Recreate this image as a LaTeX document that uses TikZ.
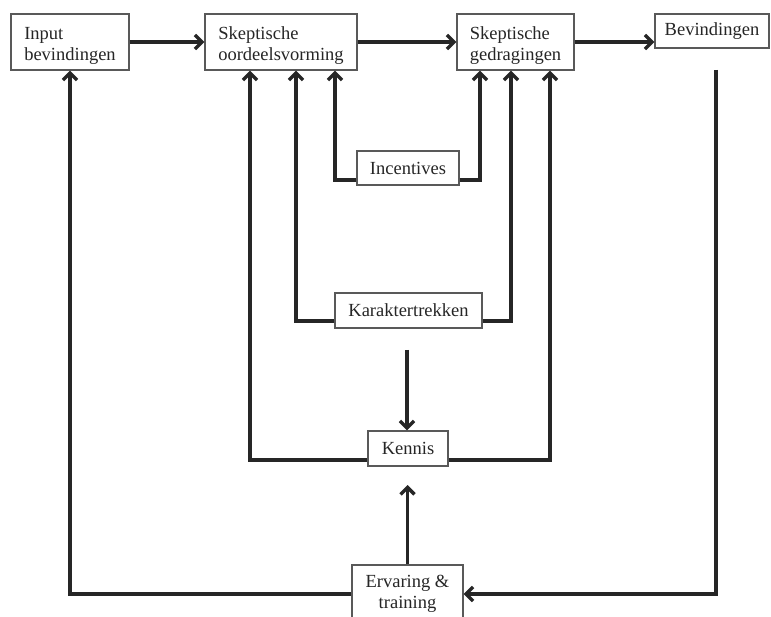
\documentclass[tikz,border=0pt]{standalone}
\usepackage{fontspec}
\setmainfont{Liberation Serif}
\usetikzlibrary{arrows.meta}
\newcommand{\lowertext}[1]{\raisebox{-4pt}[\height][\depth]{#1}}
\begin{document}
\begin{tikzpicture}[x=1pt,y=-1pt,
  box/.style={draw=black!65, line width=1.3pt, fill=white, align=center, inner sep=0pt,
    font=\fontsize{18.5}{22}\selectfont, text=black!85},
  conn/.style={line width=3.4pt, draw=black!85},
  arr/.style={conn, -{Straight Barb[length=7pt,width=14pt,line width=3.4pt]}}]
\useasboundingbox (0,0) rectangle (771,617);
\clip (0,0) rectangle (771,617);
\fill[white] (0,0) rectangle (771,617);
% nodes
\node[box, minimum width=118, minimum height=56] (in) at (70,42) {\lowertext{\begin{tabular}{@{}l@{}}Input\\[-1pt]bevindingen\end{tabular}}};
\node[box, minimum width=152, minimum height=56] (so) at (281,42) {\lowertext{\begin{tabular}{@{}l@{}}Skeptische\\[-1pt]oordeelsvorming\end{tabular}}};
\node[box, minimum width=117, minimum height=56] (sg) at (515.5,42) {\lowertext{\begin{tabular}{@{}l@{}}Skeptische\\[-1pt]gedragingen\end{tabular}}};
\node[box, minimum width=114, minimum height=34] (bev) at (712,31) {Bevindingen};
\node[box, minimum width=102, minimum height=34] (inc) at (408,168) {Incentives};
\node[box, minimum width=147, minimum height=35] (kar) at (408.5,310.5) {Karaktertrekken};
\node[box, minimum width=80, minimum height=35] (ken) at (408,448.5) {Kennis};
\node[box, minimum width=111, minimum height=58] (erv) at (407.5,594) {\begin{tabular}{@{}c@{}}Ervaring \&\\[-1pt]training\end{tabular}};
% free ends
\coordinate (bevstart) at (716,70);
\coordinate (karbelow) at (407,350);
\coordinate (kenbelow) at (407.5,485);
% main flow
\draw[arr] (in.east) -- (so.west);
\draw[arr] (so.east) -- (sg.west);
\draw[arr] (sg.east) -- (bev.west |- sg.east);
% feedback
\draw[arr] (bevstart) |- (erv.east);
\draw[arr] (erv.west) -| (in.south);
\draw[arr] (erv.north) -- (kenbelow);
\draw[arr] (karbelow) -- (karbelow |- ken.north);
% incentives
\draw[arr] ([yshift=-12pt]inc.west) -| ([xshift=54pt]so.south);
\draw[arr] ([yshift=-12pt]inc.east) -| ([xshift=-35.5pt]sg.south);
% karaktertrekken
\draw[arr] ([yshift=-10.5pt]kar.west) -| ([xshift=15pt]so.south);
\draw[arr] ([yshift=-10.5pt]kar.east) -| ([xshift=-4.5pt]sg.south);
% kennis
\draw[arr] ([yshift=-11.5pt]ken.west) -| ([xshift=-31pt]so.south);
\draw[arr] ([yshift=-11.5pt]ken.east) -| ([xshift=34.5pt]sg.south);
\end{tikzpicture}
\end{document}
